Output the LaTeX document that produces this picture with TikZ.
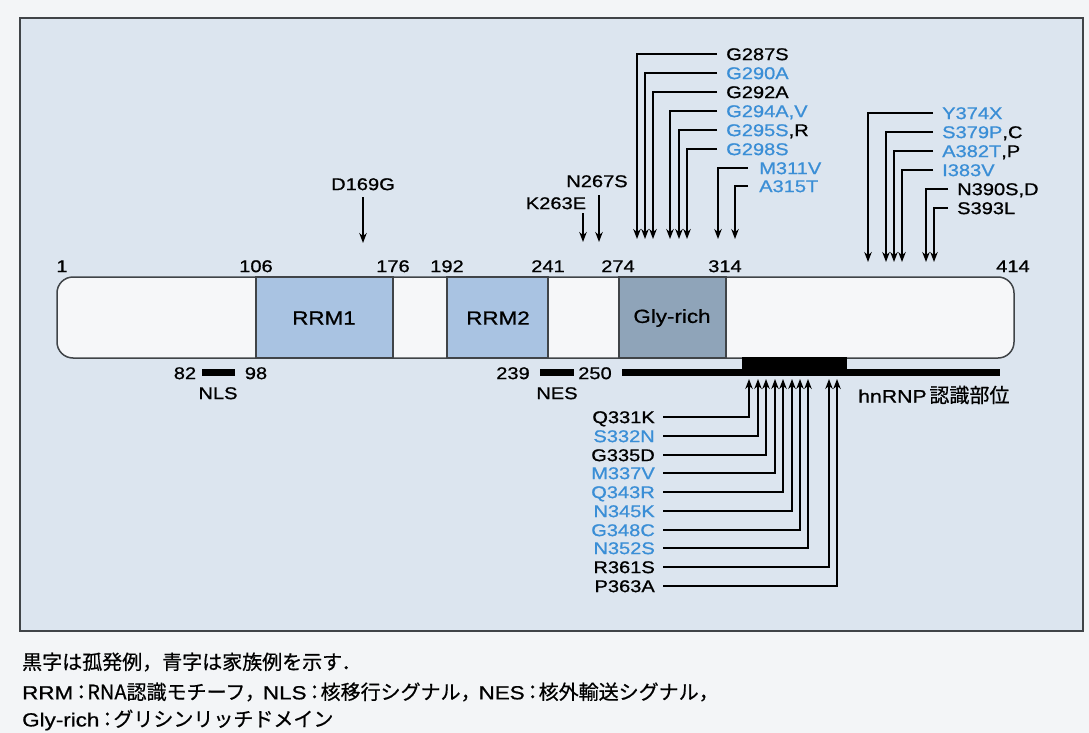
\documentclass[tikz,border=0pt]{standalone}
\usepackage{fontspec}
\setmainfont{Liberation Sans}
\newfontfamily\lf[FakeStretch=1.18,FakeBold=0.8]{Liberation Sans}
\newfontfamily\jf[FakeBold=0.6]{Noto Sans CJK JP}
\usetikzlibrary{arrows.meta}
\definecolor{pagebg}{HTML}{F3F5F7}
\definecolor{framebg}{HTML}{DCE5EF}
\definecolor{barfill}{HTML}{F6F7F9}
\definecolor{rrmfill}{HTML}{A9C3E2}
\definecolor{glyfill}{HTML}{8FA4B9}
\definecolor{mblue}{HTML}{3A8ED6}
\definecolor{edge}{HTML}{404448}
\newcommand{\pcolon}{\hspace{-0.1em}：\hspace{-0.2em}}
\newcommand{\pcomma}{，\hspace{-0.1em}}
\newcommand{\capl}[1]{{\lf\fontsize{19}{19}\selectfont #1}}
\begin{document}
\begin{tikzpicture}[x=1pt,y=-1pt,
  mut/.style={font=\lf\fontsize{17}{17}\selectfont, inner sep=0pt, text height=12.2pt, text depth=0pt},
  num/.style={font=\lf\fontsize{17}{17}\selectfont, inner sep=0pt, text height=12.2pt, text depth=0pt},
  dom/.style={font=\lf\fontsize{19}{19}\selectfont, inner sep=0pt},
  ar/.style={line width=2.5pt, -{Stealth[length=10pt,width=7.5pt]}},
  captxt/.style={font=\jf\fontsize{20}{20}\selectfont, inner sep=0pt, anchor=west}]
% page and frame
\fill[pagebg] (0,0) rectangle (1089,733);
\useasboundingbox (0,0) rectangle (1089,733);
\draw[line width=1.8pt, draw=edge, fill=framebg] (20,18) rectangle (1083,631);

% protein bar
\fill[barfill, rounded corners=16pt] (57,277) rectangle (1014,358);
\draw[line width=1.2pt, draw=edge, fill=rrmfill] (256,277) rectangle (393,358);
\draw[line width=1.2pt, draw=edge, fill=rrmfill] (447,277) rectangle (548,358);
\draw[line width=1.2pt, draw=edge, fill=glyfill] (619,277) rectangle (726,358);
\draw[line width=1.5pt, draw=edge, rounded corners=16pt] (57,277) rectangle (1014,358);
\node[dom] (rrm1) at (324,318) {RRM1};
\node[dom] (rrm2) at (498,318) {RRM2};
\node[dom] (gly) at (672,318) {Gly-rich};

% position numbers
\node[num] (p1) at (62,266) {1};
\node[num] (p106) at (256,266) {106};
\node[num] (p176) at (393,266) {176};
\node[num] (p192) at (447,266) {192};
\node[num] (p241) at (548,266) {241};
\node[num] (p274) at (618,266) {274};
\node[num] (p314) at (725,266) {314};
\node[num] (p414) at (1013,266) {414};

% NLS / NES / hnRNP
\fill[black] (202,369) rectangle (235,376);
\node[num] (n82) at (185,373) {82};
\node[num] (n98) at (256,373) {98};
\node[num] (nls) at (218,393) {NLS};
\fill[black] (540,369) rectangle (574,376);
\node[num] (n239) at (513,373) {239};
\node[num] (n250) at (595,373) {250};
\node[num] (nes) at (557,393) {NES};
\draw[line width=7pt] (622,372) -- (1000,372);
\fill[black] (742,357) rectangle (847,376);
\node[inner sep=0pt, anchor=west] (hn) at (858,395) {{\lf\fontsize{18}{18}\selectfont hnRNP} {\jf\fontsize{20}{20}\selectfont 認識部位}};

% single arrows
\node[mut] (d169) at (363,184) {D169G};
\coordinate (td169) at (363,243);
\draw[ar] (363,197) -- (td169);
\node[mut] (k263) at (556,203) {K263E};
\coordinate (tk263) at (583,242);
\draw[ar] (583,213) -- (tk263);
\node[mut] (n267) at (597,181) {N267S};
\coordinate (tn267) at (599,242);
\draw[ar] (599,195) -- (tn267);

% Gly-rich group
\node[mut, anchor=west] (g287) at (726,54) {G287S};
\node[mut, anchor=west, text=mblue] (g290) at (726,73) {G290A};
\node[mut, anchor=west] (g292) at (726,92) {G292A};
\node[mut, anchor=west, text=mblue] (g294) at (726,111) {G294A,V};
\node[mut, anchor=west] (g295) at (726,130) {\textcolor{mblue}{G295S},R};
\node[mut, anchor=west, text=mblue] (g298) at (726,149) {G298S};
\node[mut, anchor=west, text=mblue] (m311) at (759,168) {M311V};
\node[mut, anchor=west, text=mblue] (a315) at (759,186) {A315T};
\coordinate (t287) at (637,239);
\coordinate (t290) at (645,239);
\coordinate (t292) at (653,239);
\coordinate (t294) at (670,239);
\coordinate (t295) at (679,239);
\coordinate (t298) at (687,239);
\coordinate (t311) at (718,239);
\coordinate (t315) at (735,239);
\draw[ar] ([xshift=-9pt]g287.west) -| (t287);
\draw[ar] ([xshift=-9pt]g290.west) -| (t290);
\draw[ar] ([xshift=-9pt]g292.west) -| (t292);
\draw[ar] ([xshift=-9pt]g294.west) -| (t294);
\draw[ar] ([xshift=-9pt]g295.west) -| (t295);
\draw[ar] ([xshift=-9pt]g298.west) -| (t298);
\draw[ar] ([xshift=-11pt]m311.west) -| (t311);
\draw[ar] ([xshift=-11pt]a315.west) -| (t315);

% C-terminal group
\node[mut, anchor=west, text=mblue] (y374) at (942,113) {Y374X};
\node[mut, anchor=west] (s379) at (942,132) {\textcolor{mblue}{S379P},C};
\node[mut, anchor=west] (a382) at (942,151) {\textcolor{mblue}{A382T},P};
\node[mut, anchor=west, text=mblue] (i383) at (942,170) {I383V};
\node[mut, anchor=west] (n390) at (957,189) {N390S,D};
\node[mut, anchor=west] (s393) at (957,208) {S393L};
\coordinate (t374) at (868,262);
\coordinate (t379) at (886,262);
\coordinate (t382) at (894,262);
\coordinate (t383) at (902,262);
\coordinate (t390) at (926,262);
\coordinate (t393) at (934,262);
\draw[ar] ([xshift=-9pt]y374.west) -| (t374);
\draw[ar] ([xshift=-9pt]s379.west) -| (t379);
\draw[ar] ([xshift=-9pt]a382.west) -| (t382);
\draw[ar] ([xshift=-9pt]i383.west) -| (t383);
\draw[ar] ([xshift=-9pt]n390.west) -| (t390);
\draw[ar] ([xshift=-9pt]s393.west) -| (t393);

% hnRNP group (below)
\node[mut, anchor=east] (q331) at (655,417) {Q331K};
\node[mut, anchor=east, text=mblue] (s332) at (655,436) {S332N};
\node[mut, anchor=east] (g335) at (655,455) {G335D};
\node[mut, anchor=east, text=mblue] (m337) at (655,473) {M337V};
\node[mut, anchor=east, text=mblue] (q343) at (655,492) {Q343R};
\node[mut, anchor=east, text=mblue] (n345) at (655,511) {N345K};
\node[mut, anchor=east, text=mblue] (g348) at (655,530) {G348C};
\node[mut, anchor=east, text=mblue] (n352) at (655,548) {N352S};
\node[mut, anchor=east] (r361) at (655,567) {R361S};
\node[mut, anchor=east] (p363) at (655,586) {P363A};
\coordinate (b331) at (749,379);
\coordinate (b332) at (758,379);
\coordinate (b335) at (766,379);
\coordinate (b337) at (775,379);
\coordinate (b343) at (783,379);
\coordinate (b345) at (792,379);
\coordinate (b348) at (800,379);
\coordinate (b352) at (808,379);
\coordinate (b361) at (829,379);
\coordinate (b363) at (837,379);
\draw[ar] ([xshift=8pt]q331.east) -| (b331);
\draw[ar] ([xshift=8pt]s332.east) -| (b332);
\draw[ar] ([xshift=8pt]g335.east) -| (b335);
\draw[ar] ([xshift=8pt]m337.east) -| (b337);
\draw[ar] ([xshift=8pt]q343.east) -| (b343);
\draw[ar] ([xshift=8pt]n345.east) -| (b345);
\draw[ar] ([xshift=8pt]g348.east) -| (b348);
\draw[ar] ([xshift=8pt]n352.east) -| (b352);
\draw[ar] ([xshift=8pt]r361.east) -| (b361);
\draw[ar] ([xshift=8pt]p363.east) -| (b363);

% caption
\node[captxt] (c1) at (22,662) {黒字は孤発例，青字は家族例を示す．};
\node[captxt] (c2) at (22,692) {\capl{RRM}\pcolon RNA認識モチーフ\pcomma\capl{NLS}\pcolon 核移行シグナル\pcomma\capl{NES}\pcolon 核外輸送シグナル，};
\node[captxt] (c3) at (22,720) {\capl{Gly-rich}\pcolon グリシンリッチドメイン};
\end{tikzpicture}
\end{document}
